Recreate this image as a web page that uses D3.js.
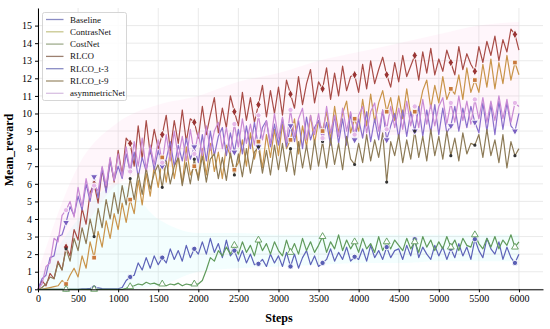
<!DOCTYPE html>
<html>
<head>
<meta charset="utf-8">
<script src="https://cdn.jsdelivr.net/npm/d3@7"></script>
<style>
  body { margin: 0; background: #fff; }
  text { font-family: "Liberation Serif", "Times New Roman", serif; }
</style>
</head>
<body>
<div id="chart"></div>
<script>
const width = 550;
const height = 329;

// x positions of every sample (0..6000, every 50 steps)
const steps = d3.range(0, 6001, 50);
const xTicks = [0, 500, 1000, 1500, 2000, 2500, 3000, 3500, 4000, 4500, 5000, 5500, 6000];
const yTicks = [0, 1, 2, 3, 4, 5, 6, 7, 8, 9, 10, 11, 12, 13, 14, 15];
const markerSteps = [350, 700, 1150, 1550, 1950, 2450, 2750, 3150, 3550, 3950, 4350, 4700, 5150, 5450, 5950];

const baseline = [
  0, 0, 0, 0, 0, 0, 0, 0, 0, 0,
  0, 0.02, 0.03, 0.05, 0.1, 0.08, 0.04, 0.02, 0.03, 0.02,
  0.03, 0.1, 0.5, 0.7, 0.8, 1.5, 1.1, 1.8, 1.2, 1.9,
  1.4, 1.8, 1.5, 2.3, 1.7, 2.2, 1.6, 2.5, 1.8, 2.3,
  2.0, 2.7, 2.0, 2.9, 2.1, 2.6, 1.8, 2.8, 1.9, 2.2,
  1.6, 2.2, 1.5, 2.0, 1.4, 1.45, 1.7, 1.3, 2.0, 1.5,
  1.9, 1.3, 2.1, 1.3, 2.0, 1.2, 1.8, 2.2, 1.4, 1.9,
  1.3, 1.5, 1.7, 2.3, 1.6, 2.1, 1.7, 2.4, 1.6, 1.85,
  1.7, 2.3, 1.6, 2.5, 1.8, 2.2, 1.7, 2.4, 1.8, 2.2,
  2.3, 1.7, 2.5, 1.9, 2.85, 1.8, 2.4, 2.0, 1.7, 2.5,
  1.9, 2.4, 1.7, 2.3, 1.8, 2.6, 1.9, 2.4, 1.7, 2.85,
  2.2, 1.8, 2.9, 2.3, 2.0, 2.7, 1.7, 2.4, 1.8, 1.5,
  2.0
];
const contrasNet = [
  0.0, 0.0, 0.05, 0.1, 0.15, 0.2, 0.5, 0.3, 0.8, 1.2,
  0.7, 1.9, 1.2, 2.7, 1.8, 3.3, 2.4, 3.9, 2.9, 4.3,
  3.4, 4.9, 3.8, 5.1, 4.3, 6.2, 4.8, 6.6, 5.3, 7.0,
  5.8, 7.5, 6.1, 7.9, 6.3, 7.6, 6.0, 8.1, 6.5, 7.0,
  6.4, 8.0, 6.5, 8.3, 6.7, 7.8, 6.3, 8.2, 7.6, 6.8,
  7.2, 8.5, 7.0, 8.9, 7.4, 8.4, 6.9, 8.8, 7.5, 9.1,
  7.6, 9.4, 8.0, 8.5, 9.7, 7.7, 9.3, 8.1, 9.9, 8.3,
  9.6, 9.0, 10.1, 8.5, 10.4, 8.9, 10.0, 10.7, 8.9, 9.7,
  9.0, 10.8, 9.3, 11.1, 9.5, 10.6, 11.3, 10.1, 10.9, 9.6,
  11.0, 9.7, 11.4, 9.9, 10.1, 10.2, 11.3, 11.9, 10.3, 11.6,
  10.6, 12.1, 10.8, 11.4, 11.1, 12.2, 10.8, 12.6, 11.2, 11.9,
  11.2, 12.8, 11.5, 13.1, 11.4, 12.9, 11.7, 13.3, 11.9, 12.9,
  12.2
];
const costNet = [
  0, 0, 0, 0, 0, 0, 0, 0, 0, 0,
  0, 0, 0, 0, 0, 0, 0, 0, 0, 0,
  0, 0, 0.05, 0.15, 0.2, 0.3, 0.25, 0.4, 0.3, 0.35,
  0.25, 0.3, 0.2, 0.3, 0.25, 0.35, 0.2, 0.3, 0.25, 0.3,
  0.3, 0.5, 1.1, 1.8, 1.6, 2.2, 1.9, 2.4, 2.0, 2.5,
  2.0, 2.7, 2.1, 2.5, 1.9, 2.8, 2.2, 2.6, 2.0, 2.7,
  2.2, 1.9, 2.8, 2.1, 2.6, 2.0, 2.9, 2.2, 2.7, 2.1,
  2.5, 3.0, 2.1, 2.7, 2.3, 3.1, 2.2, 2.8, 2.3, 2.7,
  2.1, 2.9, 2.3, 2.6, 2.1, 3.0, 2.2, 2.7, 2.3, 2.8,
  2.5, 2.2, 2.9, 2.3, 2.7, 2.1, 3.0, 2.4, 2.8, 2.2,
  2.7, 2.3, 3.0, 2.4, 2.8, 2.2, 2.9, 2.5, 2.4, 3.1,
  2.6, 2.3, 2.9, 2.4, 3.0, 2.3, 2.8, 2.5, 3.1, 2.4,
  2.7
];
const rlco = [
  0.0, 0.5, 0.2, 0.9, 0.6, 1.6, 1.1, 2.4, 1.9, 3.4,
  2.8, 4.6, 3.7, 5.5, 6.0, 4.9, 6.8, 5.6, 7.4, 6.1,
  7.9, 6.5, 8.6, 8.3, 7.0, 9.3, 7.4, 9.6, 7.7, 9.1,
  8.0, 8.8, 9.9, 7.9, 9.6, 8.3, 10.2, 8.4, 9.7, 9.5,
  8.6, 10.4, 8.8, 9.9, 10.9, 8.9, 10.3, 9.2, 11.0, 10.1,
  9.3, 11.2, 9.6, 10.9, 9.5, 10.5, 11.6, 9.8, 11.3, 10.0,
  11.5, 9.9, 11.9, 11.1, 10.3, 12.1, 10.5, 11.7, 12.5, 10.6,
  11.8, 11.4, 12.6, 10.8, 12.3, 11.0, 12.7, 11.3, 12.1, 12.2,
  11.2, 12.8, 11.4, 13.0, 11.7, 12.5, 13.2, 12.2, 11.5, 12.9,
  11.8, 13.3, 12.1, 12.7, 13.3, 11.9, 13.5, 12.3, 13.7, 12.2,
  13.1, 12.4, 13.6, 12.9, 12.2, 13.8, 12.5, 13.4, 12.8, 12.4,
  13.8, 12.9, 14.1, 13.3, 14.4, 13.0, 14.2, 13.5, 14.8, 14.5,
  13.6
];
const rlcoT3 = [
  0.0, 0.6, 0.8, 1.8, 1.9, 3.0, 3.1, 3.8, 4.7, 4.2,
  5.3, 4.5, 6.0, 5.0, 6.4, 5.2, 6.9, 5.5, 7.3, 6.2,
  7.0, 6.3, 7.7, 6.7, 7.8, 6.4, 7.5, 6.7, 8.0, 6.8,
  7.9, 7.0, 7.4, 8.4, 7.0, 8.2, 7.3, 8.6, 7.4, 8.1,
  7.2, 8.8, 7.3, 9.0, 7.6, 8.7, 9.2, 7.6, 8.9, 7.8,
  9.1, 7.7, 9.3, 8.0, 9.5, 8.1, 9.2, 9.6, 8.1, 9.4,
  8.2, 9.7, 8.1, 9.3, 8.4, 9.6, 8.0, 9.8, 8.5, 9.2,
  9.6, 8.5, 9.5, 8.2, 9.9, 8.3, 9.7, 8.2, 10.0, 8.5,
  9.7, 8.6, 10.1, 8.4, 9.7, 8.5, 10.2, 8.5, 9.3, 10.0,
  8.6, 10.2, 8.7, 10.1, 9.0, 10.4, 8.7, 10.2, 8.9, 10.5,
  8.8, 10.3, 8.9, 9.3, 10.4, 9.0, 10.3, 9.2, 10.4, 9.5,
  8.9, 10.6, 9.0, 10.5, 8.8, 10.7, 9.1, 10.6, 9.3, 9.0,
  10.0
];
const rlcoT9 = [
  0.0, 0.1, 0.3, 0.7, 0.6, 1.5, 1.1, 2.3, 1.6, 2.9,
  2.2, 3.5, 2.6, 4.0, 3.0, 4.6, 3.5, 5.1, 4.0, 5.5,
  4.3, 5.9, 4.8, 6.3, 5.1, 6.6, 5.4, 6.9, 5.7, 6.6,
  7.1, 5.8, 7.3, 6.0, 7.0, 7.5, 5.9, 7.2, 6.0, 7.4,
  6.2, 7.6, 6.1, 7.4, 7.7, 6.3, 7.5, 6.2, 7.8, 6.5,
  7.7, 6.4, 8.0, 6.6, 7.8, 8.1, 6.6, 7.9, 6.5, 8.2,
  6.8, 8.3, 6.7, 8.0, 6.5, 8.4, 6.9, 8.2, 6.8, 8.5,
  7.0, 8.4, 6.9, 8.6, 7.1, 8.3, 6.8, 8.7, 7.4, 7.1,
  8.3, 7.2, 8.8, 7.3, 8.5, 7.5, 8.9, 6.1, 8.4, 7.6,
  8.8, 7.2, 8.5, 7.4, 9.0, 7.5, 8.7, 7.3, 9.1, 7.6,
  8.7, 7.4, 9.0, 7.6, 8.6, 7.3, 8.9, 7.7, 8.3, 8.2,
  8.8, 7.5, 9.1, 7.6, 8.5, 7.2, 8.8, 6.9, 8.4, 7.6,
  8.0
];
const asymmetricNet = [
  0.0, 0.3, 1.3, 1.5, 2.9, 2.7, 4.2, 4.5, 5.0, 4.1,
  5.8, 4.7, 6.3, 5.2, 5.9, 5.6, 7.0, 5.9, 7.5, 6.2,
  7.7, 6.4, 8.1, 6.7, 8.4, 7.0, 8.6, 6.8, 8.2, 7.1,
  8.5, 7.2, 8.8, 7.3, 9.0, 7.5, 8.7, 7.3, 9.1, 7.7,
  8.9, 7.6, 9.3, 7.9, 9.0, 9.5, 8.0, 9.2, 7.8, 9.4,
  8.1, 9.7, 8.3, 9.4, 8.2, 9.9, 8.5, 9.6, 8.3, 10.0,
  8.6, 9.8, 8.4, 10.2, 8.7, 9.7, 10.3, 8.5, 9.9, 8.8,
  10.0, 8.6, 10.4, 8.9, 9.9, 8.7, 10.3, 9.0, 10.1, 8.8,
  9.9, 10.4, 8.9, 10.1, 10.6, 9.0, 10.2, 9.1, 10.4, 9.2,
  10.3, 9.1, 10.7, 9.3, 10.4, 9.2, 10.8, 9.4, 10.5, 9.3,
  10.4, 10.9, 9.4, 10.6, 9.5, 11.0, 9.6, 10.7, 9.4, 10.8,
  9.7, 10.9, 9.5, 10.7, 9.6, 11.0, 9.7, 10.8, 9.5, 10.6,
  10.4
];

// faint spread bands, sampled every 500 steps
const bandSteps = [0, 500, 1000, 1500, 2000, 2500, 3000, 3500, 4000, 4500, 5000, 5500, 6000];
const pinkLow = [0, 3, 6, 6.8, 7.5, 8, 8.3, 8.5, 8.6, 8.8, 9, 9.2, 9.3];
const pinkHigh = [1, 7, 9.5, 10.5, 11, 11.8, 12.3, 13, 13.5, 14, 14.5, 15, 15.2];
const cyanLow = [0, 0, 0, 0.2, 1.0, 1.2, 1.3, 1.4, 1.5, 1.5, 1.6, 1.6, 1.6];
const cyanHigh = [0.5, 4, 6, 4, 3.2, 3.2, 3.1, 3.1, 3.1, 3.1, 3.1, 3.1, 3.1];

const seriesNames = ["Baseline", "ContrasNet", "CostNet", "RLCO", "RLCO_t-3", "RLCO_t-9", "asymmetricNet"];
const seriesValues = [baseline, contrasNet, costNet, rlco, rlcoT3, rlcoT9, asymmetricNet];

const colors = {
  "Baseline": "#5d63b8",
  "ContrasNet": "#c9944a",
  "CostNet": "#5f9a5b",
  "RLCO": "#a84c47",
  "RLCO_t-3": "#8a6fcc",
  "RLCO_t-9": "#8c7a56",
  "asymmetricNet": "#c98ad4"
};
const legendColors = {
  "Baseline": "#8a8cc4",
  "ContrasNet": "#c8c78e",
  "CostNet": "#a0ae8e",
  "RLCO": "#9c8070",
  "RLCO_t-3": "#8a8cc4",
  "RLCO_t-9": "#a09070",
  "asymmetricNet": "#d8c0e2"
};
const markerStyle = {
  "Baseline": { type: d3.symbolCircle, size: 22, fill: "#5a5fb4", stroke: "#fff" },
  "ContrasNet": { type: d3.symbolSquare, size: 22, fill: "#c9783c", stroke: "#fff" },
  "CostNet": { type: d3.symbolTriangle, size: 20, fill: "#fff", stroke: "#5f9a5b" },
  "RLCO": { type: d3.symbolDiamond, size: 24, fill: "#9a3434", stroke: "#fff" },
  "RLCO_t-3": { type: d3.symbolTriangle, size: 22, fill: "#7a60c0", stroke: "#fff", rotate: 180 },
  "RLCO_t-9": { type: d3.symbolCircle, size: 8, fill: "#333", stroke: "none" },
  "asymmetricNet": { type: d3.symbolCircle, size: 22, fill: "#e6b8e8", stroke: "#fff" }
};

const svg = d3.select("#chart").append("svg")
  .attr("width", width)
  .attr("height", height);

const xScale = d3.scaleLinear().domain([0, 6300]).range([38, 543]);
const yScale = d3.scaleLinear().domain([0, 16]).range([289.3, 8]);

// grid
svg.append("g").selectAll("line").data(xTicks).enter().append("line")
  .attr("x1", d => xScale(d)).attr("x2", d => xScale(d))
  .attr("y1", yScale(0)).attr("y2", yScale(16))
  .attr("stroke", "#e4e4e4").attr("stroke-width", 0.8);
svg.append("g").selectAll("line").data(yTicks).enter().append("line")
  .attr("x1", xScale(0)).attr("x2", xScale(6300))
  .attr("y1", d => yScale(d)).attr("y2", d => yScale(d))
  .attr("stroke", "#e4e4e4").attr("stroke-width", 0.8);

// bands
const band = (lo, hi) => d3.area()
  .x((d, i) => xScale(bandSteps[i]))
  .y0((d, i) => yScale(lo[i]))
  .y1((d, i) => yScale(hi[i]))
  .curve(d3.curveMonotoneX);
svg.append("path").datum(bandSteps).attr("d", band(pinkLow, pinkHigh))
  .attr("fill", "#ff9ad0").attr("opacity", 0.09);
svg.append("path").datum(bandSteps).attr("d", band(cyanLow, cyanHigh))
  .attr("fill", "#7ef0f0").attr("opacity", 0.09);

// lines
const line = d3.line().x((d, i) => xScale(steps[i])).y(d => yScale(d));
seriesNames.forEach((name, k) => {
  svg.append("path")
    .datum(seriesValues[k])
    .attr("d", line)
    .attr("fill", "none")
    .attr("stroke", colors[name])
    .attr("stroke-width", 1.2)
    .attr("stroke-linejoin", "round");
});

// markers
seriesNames.forEach((name, k) => {
  const st = markerStyle[name];
  const sym = d3.symbol().type(st.type).size(st.size);
  svg.append("g").selectAll("path")
    .data(markerSteps)
    .enter().append("path")
    .attr("d", sym)
    .attr("transform", s => {
      const v = seriesValues[k][steps.indexOf(s)];
      return `translate(${xScale(s)},${yScale(v)})` + (st.rotate ? ` rotate(${st.rotate})` : "");
    })
    .attr("fill", st.fill)
    .attr("stroke", st.stroke)
    .attr("stroke-width", 0.9);
});

// axes
const xAxis = d3.axisBottom(xScale).tickValues(xTicks).tickFormat(d3.format("d")).tickSize(3).tickSizeOuter(0);
const yAxis = d3.axisLeft(yScale).tickValues(yTicks).tickFormat(d3.format("d")).tickSize(3).tickSizeOuter(0);

const gx = svg.append("g").attr("transform", `translate(0,${yScale(0)})`).call(xAxis);
const gy = svg.append("g").attr("transform", `translate(${xScale(0)},0)`).call(yAxis);
[gx, gy].forEach(g => {
  g.select(".domain").attr("stroke", "#000").attr("stroke-width", 1);
  g.selectAll(".tick line").attr("stroke", "#000");
  g.selectAll(".tick text")
    .attr("font-family", "Liberation Serif, Times New Roman, serif")
    .attr("font-size", 10)
    .attr("fill", "#000");
});

svg.append("text")
  .attr("x", 279).attr("y", 322)
  .attr("text-anchor", "middle")
  .attr("font-size", 12).attr("font-weight", "bold")
  .text("Steps");

svg.append("text")
  .attr("transform", "translate(13,150) rotate(-90)")
  .attr("text-anchor", "middle")
  .attr("font-size", 12).attr("font-weight", "bold")
  .text("Mean_reward");

// legend
const legend = svg.append("g");
legend.append("rect")
  .attr("x", 42.5).attr("y", 12.5)
  .attr("width", 84).attr("height", 88)
  .attr("rx", 2)
  .attr("fill", "#fff").attr("fill-opacity", 0.85)
  .attr("stroke", "#cccccc").attr("stroke-width", 0.8);

seriesNames.forEach((name, i) => {
  const y = 19.5 + i * 12.3;
  legend.append("line")
    .attr("x1", 46).attr("x2", 63.5)
    .attr("y1", y).attr("y2", y)
    .attr("stroke", legendColors[name]).attr("stroke-width", 1.3);
  legend.append("text")
    .attr("x", 70).attr("y", y + 3)
    .attr("font-size", 9)
    .attr("fill", "#111")
    .text(name);
});
</script>
</body>
</html>
